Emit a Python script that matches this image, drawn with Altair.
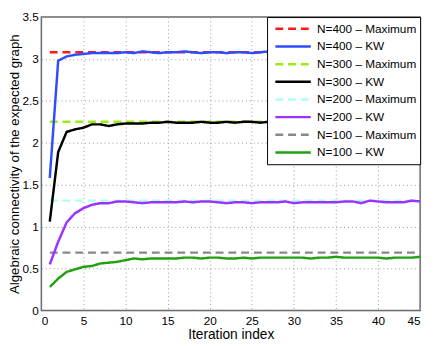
import altair as alt
import pandas as pd

iterations = list(range(1, 46))

kw400 = [1.58, 2.98, 3.03, 3.05, 3.06, 3.07, 3.07, 3.07, 3.07, 3.08, 3.07, 3.09, 3.08, 3.07, 3.08,
         3.08, 3.09, 3.08, 3.07, 3.08, 3.08, 3.07, 3.08, 3.08, 3.07, 3.08, 3.09, 3.08, 3.07, 3.08,
         3.08, 3.07, 3.08, 3.08, 3.07, 3.08, 3.08, 3.07, 3.08, 3.08, 3.07, 3.08, 3.08, 3.07, 3.08]
kw300 = [1.06, 1.89, 2.13, 2.16, 2.18, 2.22, 2.22, 2.20, 2.22, 2.23, 2.23, 2.23, 2.24, 2.24, 2.25,
         2.24, 2.24, 2.24, 2.25, 2.24, 2.24, 2.25, 2.24, 2.25, 2.25, 2.24, 2.25, 2.25, 2.24, 2.25,
         2.25, 2.24, 2.25, 2.25, 2.24, 2.25, 2.25, 2.24, 2.25, 2.25, 2.24, 2.25, 2.25, 2.24, 2.25]
kw200 = [0.55, 0.82, 1.05, 1.16, 1.22, 1.26, 1.28, 1.28, 1.30, 1.30, 1.29, 1.28, 1.29, 1.29, 1.29,
         1.29, 1.30, 1.29, 1.30, 1.30, 1.29, 1.28, 1.29, 1.29, 1.28, 1.29, 1.29, 1.29, 1.30, 1.28,
         1.29, 1.29, 1.29, 1.29, 1.29, 1.30, 1.30, 1.28, 1.31, 1.30, 1.29, 1.29, 1.29, 1.31, 1.30]
kw100 = [0.28, 0.38, 0.46, 0.49, 0.52, 0.53, 0.56, 0.57, 0.58, 0.60, 0.62, 0.61, 0.62, 0.62, 0.62,
         0.62, 0.63, 0.63, 0.62, 0.63, 0.63, 0.62, 0.62, 0.63, 0.62, 0.63, 0.63, 0.63, 0.63, 0.63,
         0.63, 0.62, 0.63, 0.63, 0.64, 0.63, 0.63, 0.63, 0.63, 0.63, 0.62, 0.63, 0.63, 0.63, 0.64]

maximum = {"N=400": 3.08, "N=300": 2.25, "N=200": 1.31, "N=100": 0.69}
max_x = [1, 45]

series_names = ["N=400 – Maximum", "N=400 – KW", "N=300 – Maximum", "N=300 – KW",
                "N=200 – Maximum", "N=200 – KW", "N=100 – Maximum", "N=100 – KW"]
series_colors = ["#ff1a1a", "#2d4dff", "#99ee11", "#000000",
                 "#b0fff0", "#9933ff", "#888888", "#22a012"]
series_dash = [[8, 5], [1, 0], [8, 5], [1, 0], [8, 5], [1, 0], [8, 5], [1, 0]]

kw_rows = []
for name, vals in [("N=400", kw400), ("N=300", kw300), ("N=200", kw200), ("N=100", kw100)]:
    for i, v in zip(iterations, vals):
        kw_rows.append({"x": i, "y": v, "series": f"{name} – KW"})
max_rows = []
for name, v in maximum.items():
    for i in max_x:
        max_rows.append({"x": i, "y": v, "series": f"{name} – Maximum"})

kw_df = pd.DataFrame(kw_rows)
max_df = pd.DataFrame(max_rows)

font = "Liberation Sans"

x_enc = alt.X("x:Q", scale=alt.Scale(domain=[0, 45], nice=False),
              axis=alt.Axis(title="Iteration index", values=list(range(0, 50, 5)),
                            grid=True, gridDash=[1, 3], gridColor="#999999", gridOpacity=1,
                            tickSize=0, labelPadding=5, domain=False,
                            labelFontSize=12, titleFontSize=14, titleFontWeight="normal",
                            labelFont=font, titleFont=font, labelColor="#000", titleColor="#000",
                            titlePadding=2))
y_enc = alt.Y("y:Q", scale=alt.Scale(domain=[0, 3.5], nice=False),
              axis=alt.Axis(title="Algebraic connectivity of the expected graph",
                            values=[0, 0.5, 1, 1.5, 2, 2.5, 3, 3.5], format="~g",
                            grid=True, gridDash=[1, 3], gridColor="#999999", gridOpacity=1,
                            tickSize=0, labelPadding=3, domain=False,
                            labelFontSize=12, titleFontSize=13.5, titleFontWeight="normal",
                            labelFont=font, titleFont=font, labelColor="#000", titleColor="#000",
                            titlePadding=1))
color_enc = alt.Color("series:N", scale=alt.Scale(domain=series_names, range=series_colors),
                      sort=series_names,
                      legend=alt.Legend(title=None, orient="top-right", offset=0,
                                        fillColor="white", strokeColor="#000", padding=3,
                                        symbolType="stroke", symbolSize=1300, symbolStrokeWidth=2.5,
                                        symbolOffset=4,
                                        labelFont=font, labelFontSize=12, labelColor="#000",
                                        rowPadding=0, clipHeight=18, labelOffset=5))
dash_enc = alt.StrokeDash("series:N", scale=alt.Scale(domain=series_names, range=series_dash),
                          sort=series_names, legend=alt.Legend(title=None))

max_layer = alt.Chart(max_df).mark_line(strokeWidth=2.5).encode(
    x=x_enc, y=y_enc, color=color_enc, strokeDash=dash_enc, detail="series:N")
kw_layer = alt.Chart(kw_df).mark_line(strokeWidth=2.5).encode(
    x=x_enc, y=y_enc, color=color_enc, strokeDash=dash_enc, detail="series:N")

chart = alt.layer(max_layer, kw_layer).properties(
    width=386, height=299,
    autosize=alt.AutoSizeParams(type="none"),
    padding={"left": 34, "top": 6, "right": 8, "bottom": 33},
).configure_view(stroke="#666666", strokeWidth=1.5)

chart.save("out.html", embed_options={"renderer": "svg", "actions": False})
